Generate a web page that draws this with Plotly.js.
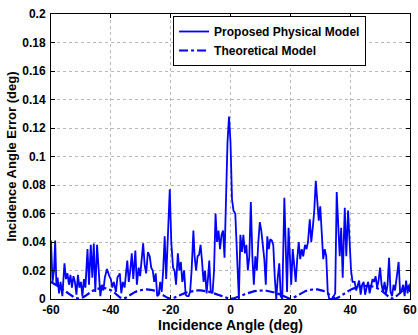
<!DOCTYPE html>
<html>
<head>
<meta charset="utf-8">
<script src="https://cdn.plot.ly/plotly-3.0.1.min.js"></script>
<style>html,body{margin:0;padding:0;background:#fff;}#chart{width:418px;height:335px;}</style>
</head>
<body>
<div id="chart"></div>
<script>
const proposedX = [-60,-59.5,-59,-58.6,-58.2,-57.8,-57.3,-56.8,-56.2,-55.5,-55,-54.5,-54,-53.5,-53,-52.5,-52,-51.5,-51,-50.5,-50,-49.5,-49,-48.5,-47.8,-47.3,-46.7,-46.2,-45.7,-45.2,-44.6,-44,-43.5,-43,-42.5,-42,-41.3,-40.5,-40,-39.5,-39,-38.3,-37.8,-37,-36.5,-36,-35.4,-34.5,-34,-33.5,-33,-32.5,-31.8,-31.3,-30.7,-30.2,-29.7,-29.2,-28.7,-28.2,-27.6,-27,-26.5,-26,-25.5,-25,-24.5,-24,-23.5,-23,-22.5,-22,-21.5,-21,-20.3,-19.8,-19.2,-18.7,-18.2,-17.6,-17.1,-16.6,-16.1,-15.5,-15,-14.5,-14,-13.5,-13,-12.4,-12,-11.5,-11,-10.5,-10,-9.5,-9,-8.5,-8,-7.5,-7.1,-6.6,-6,-5.5,-5,-4.5,-4,-3.5,-3,-2.5,-2,-1.5,-1,-0.5,0,0.5,1,1.6,2.2,2.8,3.3,3.8,4.3,4.8,5.3,5.8,6.3,6.8,7.3,7.8,8.3,8.8,9.3,9.8,10.3,10.8,11.3,11.8,12.3,12.8,13.3,13.8,14.3,14.8,15.3,15.8,16.3,16.8,17.3,18,18.5,18.9,19.4,19.9,20.3,20.8,21.3,21.8,22.3,22.8,23.3,23.8,24.3,24.9,25.4,25.9,26.5,27,27.5,28,28.5,29,29.5,30,30.5,31,31.5,32,32.5,33,34,35,35.5,36,36.5,37,37.5,38.2,38.7,39.3,39.8,40.3,40.8,41.5,42,42.5,43,43.5,44,44.5,45,45.5,46,46.5,47,47.5,48,48.5,49,49.5,50,50.5,51,51.5,52,52.5,53,53.5,54,54.5,55,55.5,56.2,56.7,57.2,57.7,58.2,58.7,59.2,59.6,60];
const proposedY = [0.041,0.012,0.02,0.041,0.01,0.015,0.004,0.012,0.002,0.025,0.014,0.018,0.01,0.017,0.008,0.016,0.012,0.003,0.017,0.008,0.012,0.002,0.014,0.008,0.035,0.01,0.038,0.015,0.039,0.005,0.038,0.015,0.002,0.01,0.006,0.015,0.021,0.016,0.014,0.008,0.012,0.005,0.015,0.018,0.004,0.012,0.008,0.027,0.012,0.02,0.032,0.014,0.034,0.01,0.022,0.016,0.03,0.039,0.024,0.018,0.033,0.03,0.022,0.02,0.012,0.018,0.002,0.003,0.012,0.005,0.02,0.044,0.014,0.04,0.077,0.04,0.022,0.02,0.01,0.032,0.02,0.026,0.012,0.02,0.003,0.002,0.002,0.005,0.02,0.048,0.03,0.02,0.03,0.031,0.038,0.026,0.012,0.02,0.004,0.015,0.027,0.005,0.004,0.02,0.06,0.04,0.048,0.035,0.045,0.048,0.029,0.07,0.11,0.128,0.11,0.07,0.062,0.06,0.035,0.0,0.045,0.033,0.045,0.032,0.038,0.02,0.03,0.068,0.03,0.01,0.03,0.02,0.04,0.054,0.048,0.038,0.028,0.01,0.044,0.035,0.042,0.041,0.038,0.015,0.0,0.015,0.025,0.002,0.0,0.071,0.02,0.005,0.05,0.03,0.01,0.035,0.02,0.012,0.028,0.04,0.028,0.035,0.03,0.038,0.035,0.04,0.056,0.04,0.05,0.062,0.083,0.07,0.055,0.065,0.045,0.028,0.035,0.03,0.005,0.0,0.0,0.004,0.075,0.045,0.03,0.05,0.015,0.064,0.03,0.062,0.04,0.02,0.012,0.012,0.006,0.01,0.013,0.003,0.01,0.012,0.003,0.008,0.012,0.004,0.01,0.014,0.012,0.016,0.008,0.013,0.022,0.01,0.005,0.012,0.004,0.01,0.029,0.005,0.002,0.01,0.006,0.014,0.026,0.004,0.006,0.01,0.002,0.013,0.004,0.01,0.005];

const theoryX = [-60,-59,-58,-57,-56,-55,-54,-53,-52,-51,-50,-49,-48,-47,-46,-45,-44,-43,-42,-41,-40,-39,-38,-37,-36,-35,-34,-33,-32,-31,-30,-29,-28,-27,-26,-25,-24,-23,-22,-21,-20,-19,-18,-17,-16,-15,-14,-13,-12,-11,-10,-9,-8,-7,-6,-5,-4,-3,-2,-1,0,1,2,3,4,5,6,7,8,9,10,11,12,13,14,15,16,17,18,19,20,21,22,23,24,25,26,27,28,29,30,31,32,33,34,35,36,37,38,39,40,41,42,43,44,45,46,47,48,49,50,51,52,53,54,55,56,57,58,59,60];
const theoryY = [0.012,0.011,0.0095,0.008,0.0065,0.005,0.0035,0.002,0.0008,0.0003,0.0005,0.0015,0.003,0.0045,0.0058,0.0068,0.0075,0.0078,0.0077,0.0072,0.0062,0.0048,0.003,0.0012,0.0002,0.0008,0.0022,0.0036,0.0048,0.0057,0.0063,0.0066,0.0067,0.0066,0.0062,0.0055,0.0045,0.0033,0.002,0.0008,0.0,0.0007,0.0017,0.0027,0.0036,0.0044,0.005,0.0055,0.0058,0.006,0.006,0.0058,0.0055,0.005,0.0043,0.0036,0.0027,0.0018,0.001,0.0004,0.0,0.0004,0.001,0.0018,0.0027,0.0036,0.0043,0.005,0.0055,0.0058,0.006,0.006,0.0058,0.0055,0.005,0.0044,0.0036,0.0027,0.0017,0.0007,0.0,0.0008,0.002,0.0033,0.0045,0.0055,0.0062,0.0066,0.0068,0.0067,0.0064,0.0057,0.0046,0.003,0.0012,0.0002,0.001,0.0025,0.004,0.0053,0.0064,0.0073,0.008,0.0086,0.009,0.0092,0.0092,0.009,0.0085,0.0077,0.0066,0.005,0.0032,0.0013,0.0002,0.0012,0.003,0.005,0.007,0.009,0.0105];

const xTicks = [-60,-40,-20,0,20,40,60];
const yTicks = [0,0.02,0.04,0.06,0.08,0.1,0.12,0.14,0.16,0.18,0.2];
const yTickText = ['0','0.02','0.04','0.06','0.08','0.1','0.12','0.14','0.16','0.18','0.2'];
const seriesNames = ['Proposed Physical Model','Theoretical Model'];

const fontFam = 'Liberation Sans, Arial, sans-serif';
const traces = [
  {x: proposedX, y: proposedY, name: seriesNames[0], type: 'scatter', mode: 'lines',
   line: {color: '#0000ff', width: 1.8}},
  {x: theoryX, y: theoryY, name: seriesNames[1], type: 'scatter', mode: 'lines',
   line: {color: '#0000ff', width: 2.2, dash: 'dashdot'}}
];
const axisCommon = {
  showline: true, linecolor: '#000', linewidth: 1, mirror: 'ticks',
  ticks: 'inside', ticklen: 4, tickcolor: '#000',
  showgrid: true, gridcolor: '#b8b8b8', griddash: 'dot', gridwidth: 1,
  zeroline: false, ticklabeloverflow: 'allow',
  tickfont: {family: fontFam, size: 12, color: '#000', weight: 'bold'}
};
const layout = {
  width: 418, height: 335,
  margin: {l: 51, r: 8, t: 14, b: 36},
  paper_bgcolor: '#fff', plot_bgcolor: '#fff',
  showlegend: true,
  legend: {x: 0.34, y: 0.993, xanchor: 'left', yanchor: 'top',
    bgcolor: '#fff', bordercolor: '#000', borderwidth: 1,
    font: {family: fontFam, size: 12, color: '#000', weight: 'bold'},
    tracegroupgap: 0, itemwidth: 30},
  xaxis: Object.assign({}, axisCommon, {
    range: [-60, 60], tickvals: xTicks, ticktext: xTicks.map(String),
    ticklabelstandoff: 0,
    title: {text: 'Incidence Angle (deg)', font: {family: fontFam, size: 14, color: '#000', weight: 'bold'}, standoff: 1}
  }),
  yaxis: Object.assign({}, axisCommon, {
    range: [0, 0.2], tickvals: yTicks, ticktext: yTickText,
    ticklabelstandoff: 2,
    title: {text: 'Incidence Angle Error (deg)', font: {family: fontFam, size: 13, color: '#000', weight: 'bold'}, standoff: 2}
  })
};
Plotly.newPlot('chart', traces, layout, {staticPlot: true, displayModeBar: false});
</script>
</body>
</html>
